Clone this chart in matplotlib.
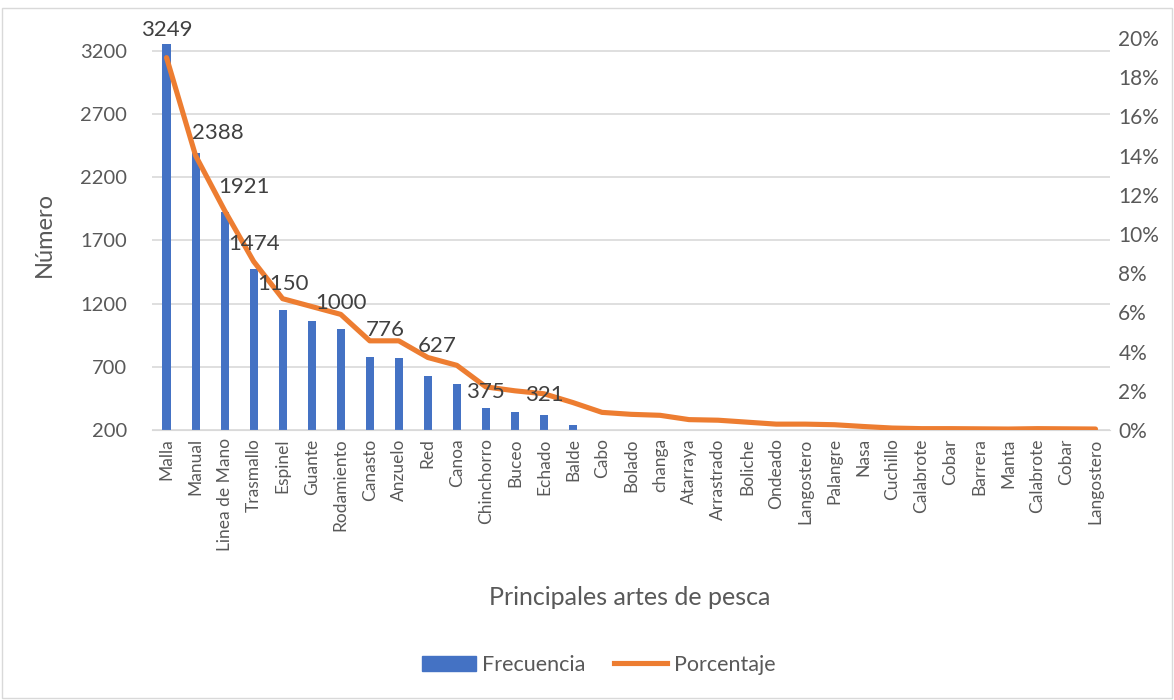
import matplotlib.pyplot as plt
from matplotlib.patches import Rectangle
from matplotlib.lines import Line2D
from matplotlib.patches import Patch

plt.rcParams['font.family'] = ['Lato', 'DejaVu Sans']

categorias = ['Malla', 'Manual', 'Linea de Mano', 'Trasmallo', 'Espinel', 'Guante',
              'Rodamiento', 'Canasto', 'Anzuelo', 'Red', 'Canoa', 'Chinchorro', 'Buceo',
              'Echado', 'Balde', 'Cabo', 'Bolado', 'changa', 'Atarraya', 'Arrastrado',
              'Boliche', 'Ondeado', 'Langostero', 'Palangre', 'Nasa', 'Cuchillo',
              'Calabrote', 'Cobar', 'Barrera', 'Manta', 'Calabrote', 'Cobar', 'Langostero']
frecuencia = [3249, 2388, 1921, 1474, 1150, 1060, 1000, 776, 770, 627, 560, 375, 340,
              321, 240, 150, 135, 128, 92, 85, 70, 52, 50, 45, 30, 18, 12, 12, 10, 8, 10, 10, 8]
porcentaje = [19.0, 14.0, 11.2, 8.6, 6.7, 6.3, 5.9, 4.55, 4.55, 3.7, 3.3, 2.2, 2.0,
              1.85, 1.4, 0.9, 0.8, 0.75, 0.53, 0.5, 0.4, 0.3, 0.3, 0.27, 0.18, 0.1,
              0.07, 0.07, 0.06, 0.05, 0.07, 0.06, 0.05]
# indices of bars that carry a data label
con_etiqueta = [0, 1, 2, 3, 4, 6, 7, 9, 11, 13]
# label placement: shift in categories, height above bar top in pixels
desp_x = {0: 0, 1: 0.78, 2: 0.65, 3: 0.03, 4: 0, 6: 0, 7: 0.55, 9: 0.33, 11: 0, 13: 0}
desp_y = {0: 14, 1: 20, 2: 25, 3: 25, 4: 26, 6: 26, 7: 27, 9: 30, 11: 16, 13: 20}

azul = '#4472C4'
naranja = '#ED7D31'
gris = '#595959'

fig = plt.figure(figsize=(11.74, 7), dpi=100)
fig.patches.append(Rectangle((0.002, 0.003), 0.996, 0.985, transform=fig.transFigure,
                             fill=False, edgecolor='#D9D9D9', linewidth=1))
ax = fig.add_axes([0.1295, 0.3857, 0.816, 0.56])
ax2 = ax.twinx()

x = list(range(len(categorias)))
ax.bar(x, frecuencia, width=0.28, color=azul, zorder=2)
ax.set_ylim(200, 3300)
ax.set_yticks(range(200, 3201, 500))
ax.set_xlim(-0.5, len(categorias) - 0.5)
ax.set_xticks(x)
ax.set_xticklabels(categorias, rotation=90, fontsize=12.5, color=gris)
ax.grid(axis='y', color='#D9D9D9', linewidth=1.2, zorder=0)
ax.tick_params(axis='y', labelsize=14.5, colors=gris, length=0, pad=18)
ax.tick_params(axis='x', length=0, pad=6)
for s in ['top', 'right', 'left']:
    ax.spines[s].set_visible(False)
ax.spines['bottom'].set_color('#D9D9D9')
ax.set_ylabel('Número', fontsize=17, color=gris, labelpad=18)

ax2.plot(x, [p / 100 for p in porcentaje], color=naranja, linewidth=3.7,
         solid_capstyle='round', zorder=3)
ax2.set_ylim(0, 0.20)
ax2.set_yticks([i / 100 for i in range(0, 21, 2)])
ax2.set_yticklabels([f'{i}%' for i in range(0, 21, 2)])
ax2.tick_params(axis='y', labelsize=15, colors=gris, length=0, pad=6)
for s in ['top', 'right', 'left', 'bottom']:
    ax2.spines[s].set_visible(False)

for i in con_etiqueta:
    ax2.annotate(str(frecuencia[i]), (i + desp_x[i], frecuencia[i]), xycoords=ax.transData,
                 xytext=(0, desp_y[i] * 0.72), textcoords='offset points',
                 ha='center', va='center', fontsize=16, color='#404040', zorder=5)

fig.text(0.536, 0.146, 'Principales artes de pesca', ha='center', va='center',
         fontsize=18, color=gris)

handles = [Patch(color=azul, label='Frecuencia'),
           Line2D([0], [0], color=naranja, linewidth=3.7, label='Porcentaje')]
fig.legend(handles=handles, loc='center', bbox_to_anchor=(0.51, 0.05), ncol=2,
           frameon=False, fontsize=15.5, labelcolor=gris, handlelength=2.5,
           handleheight=0.7, columnspacing=1.3, handletextpad=0.3)

fig.savefig('out.png', dpi=100)
